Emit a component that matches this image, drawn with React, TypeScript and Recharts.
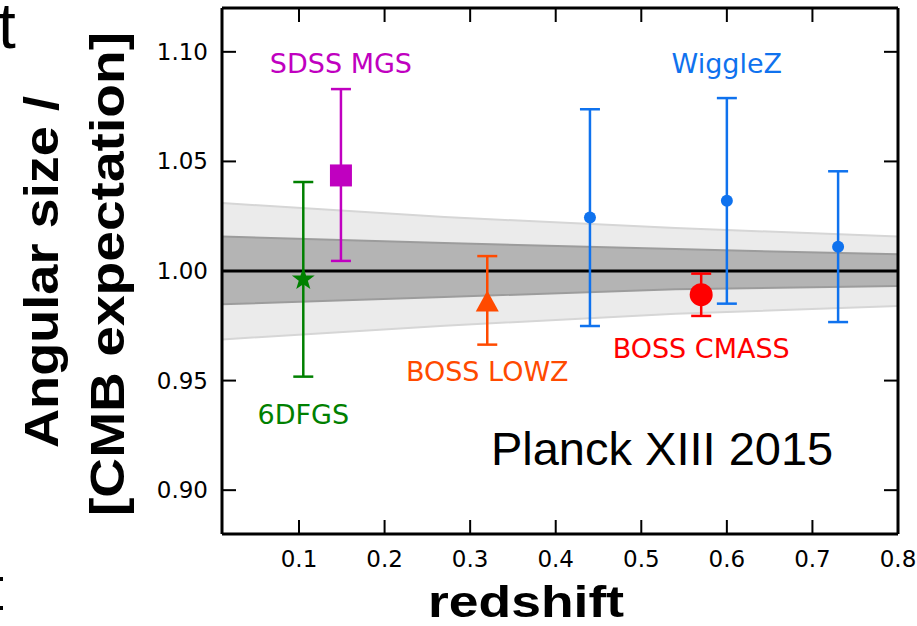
import {
  ComposedChart,
  Area,
  Line,
  Scatter,
  ErrorBar,
  XAxis,
  YAxis,
  ReferenceDot,
} from "recharts";

// Planck model bands (read at a few redshifts)
const bandZ = [0.01, 0.27, 0.54, 0.8];
const outerLow = [0.9688, 0.975, 0.9805, 0.984];
const outerHigh = [1.031, 1.0246, 1.0196, 1.0157];
const innerLow = [0.9848, 0.9881, 0.9917, 0.9932];
const innerHigh = [1.0157, 1.0128, 1.01, 1.0076];
const unity = [1, 1, 1, 1];

// BAO measurements
const pointSurvey = ["6DFGS", "SDSS MGS", "BOSS LOWZ", "WiggleZ", "WiggleZ", "WiggleZ", "BOSS CMASS"];
const pointZ = [0.105, 0.149, 0.32, 0.44, 0.6, 0.73, 0.57];
const pointRatio = [0.9962, 1.0436, 0.9861, 1.0244, 1.032, 1.0111, 0.9892];
const pointLow = [0.9518, 1.0046, 0.9664, 0.9749, 0.9851, 0.9767, 0.9795];
const pointHigh = [1.0406, 1.083, 1.0068, 1.0738, 1.0789, 1.0455, 0.9988];

// survey name labels
const labelText = ["SDSS MGS", "WiggleZ", "6DFGS", "BOSS LOWZ", "BOSS CMASS"];
const labelZ = [0.149, 0.6, 0.105, 0.32, 0.57];
const labelRatio = [1.0946, 1.0946, 0.9346, 0.9542, 0.9647];

const xTicks = [0.1, 0.2, 0.3, 0.4, 0.5, 0.6, 0.7, 0.8];
const yTicks = [0.9, 0.95, 1.0, 1.05, 1.1];

const surveyColor: Record<string, string> = {
  "6DFGS": "#008000",
  "SDSS MGS": "#c000c0",
  "BOSS LOWZ": "#ff4a00",
  WiggleZ: "#0f72ee",
  "BOSS CMASS": "#ff0000",
};

const bandData = bandZ.map((z, i) => ({
  x: z,
  outer: [outerLow[i], outerHigh[i]],
  inner: [innerLow[i], innerHigh[i]],
  unity: unity[i],
}));

const pointsFor = (name: string) =>
  pointZ
    .map((z, i) => ({
      survey: pointSurvey[i],
      x: z,
      y: pointRatio[i],
      err: [pointRatio[i] - pointLow[i], pointHigh[i] - pointRatio[i]],
    }))
    .filter((p) => p.survey === name);

const starPath = (cx: number, cy: number, R: number, r: number) => {
  let d = "";
  for (let k = 0; k < 10; k++) {
    const rad = k % 2 === 0 ? R : r;
    const a = -Math.PI / 2 + (k * Math.PI) / 5;
    d += (k === 0 ? "M" : "L") + (cx + rad * Math.cos(a)) + "," + (cy + rad * Math.sin(a));
  }
  return d + "Z";
};

const Star = (p: any) => <path d={starPath(p.cx, p.cy, 12, 4.8)} fill={surveyColor["6DFGS"]} />;
const Square = (p: any) => (
  <rect x={p.cx - 11} y={p.cy - 11} width={22} height={22} fill={surveyColor["SDSS MGS"]} />
);
const Triangle = (p: any) => (
  <path
    d={`M${p.cx},${p.cy - 11} L${p.cx + 11.5},${p.cy + 10} L${p.cx - 11.5},${p.cy + 10} Z`}
    fill={surveyColor["BOSS LOWZ"]}
  />
);
const BigDot = (p: any) => <circle cx={p.cx} cy={p.cy} r={11.5} fill={surveyColor["BOSS CMASS"]} />;
const SmallDot = (p: any) => <circle cx={p.cx} cy={p.cy} r={6} fill={surveyColor.WiggleZ} />;

const shapes: Record<string, any> = {
  "6DFGS": Star,
  "SDSS MGS": Square,
  "BOSS LOWZ": Triangle,
  WiggleZ: SmallDot,
  "BOSS CMASS": BigDot,
};

const TICK = 14;
const labelFont = { fontSize: 23, fontFamily: "DejaVu Sans", fill: "#000" };
const frame = { stroke: "#000", strokeWidth: 3 };

// inward ticks drawn by hand, labels outside
const BottomTick = (p: any) => (
  <g>
    <line x1={p.x} y1={p.y} x2={p.x} y2={p.y - TICK} stroke="#000" strokeWidth={2} />
    <text x={p.x} y={p.y + 33} textAnchor="middle" {...labelFont}>
      {Number(p.payload.value).toFixed(1)}
    </text>
  </g>
);
const TopTick = (p: any) => (
  <line x1={p.x} y1={p.y} x2={p.x} y2={p.y + TICK} stroke="#000" strokeWidth={2} />
);
const LeftTick = (p: any) => (
  <g>
    <line x1={p.x} y1={p.y} x2={p.x + TICK} y2={p.y} stroke="#000" strokeWidth={2} />
    <text x={p.x - 14} y={p.y + 8} textAnchor="end" {...labelFont}>
      {Number(p.payload.value).toFixed(2)}
    </text>
  </g>
);
const RightTick = (p: any) => (
  <line x1={p.x} y1={p.y} x2={p.x - TICK} y2={p.y} stroke="#000" strokeWidth={2} />
);

export default function App() {
  return (
    <div style={{ position: "absolute", left: 0, top: 0, width: 917, height: 626, background: "#fff" }}>
      <ComposedChart
        width={917}
        height={626}
        data={bandData}
        margin={{ top: 7, right: 18, bottom: 42, left: 142 }}
      >
        <XAxis
          dataKey="x"
          type="number"
          domain={[0.01, 0.8]}
          allowDataOverflow
          ticks={xTicks}
          tick={BottomTick}
          tickSize={0}
          tickMargin={0}
          tickLine={false}
          axisLine={frame}
          height={50}
        />
        <XAxis
          xAxisId="top"
          orientation="top"
          dataKey="x"
          type="number"
          domain={[0.01, 0.8]}
          allowDataOverflow
          ticks={xTicks}
          tick={TopTick}
          tickSize={0}
          tickMargin={0}
          tickLine={false}
          axisLine={frame}
          height={1}
        />
        <YAxis
          type="number"
          domain={[0.88, 1.12]}
          allowDataOverflow
          ticks={yTicks}
          tick={LeftTick}
          tickSize={0}
          tickMargin={0}
          tickLine={false}
          axisLine={frame}
          width={80}
        />
        <YAxis
          yAxisId="right"
          orientation="right"
          type="number"
          domain={[0.88, 1.12]}
          allowDataOverflow
          ticks={yTicks}
          tick={RightTick}
          tickSize={0}
          tickMargin={0}
          tickLine={false}
          axisLine={frame}
          width={1}
        />
        <Area
          dataKey="outer"
          type="linear"
          fill="#ebebeb"
          fillOpacity={1}
          stroke="#d6d6d6"
          strokeWidth={2}
          isAnimationActive={false}
        />
        <Area
          dataKey="inner"
          type="linear"
          fill="#b4b4b4"
          fillOpacity={1}
          stroke="#9c9c9c"
          strokeWidth={2}
          isAnimationActive={false}
        />
        <Line
          dataKey="unity"
          type="linear"
          stroke="#000"
          strokeWidth={3}
          dot={false}
          isAnimationActive={false}
        />
        <Line
          dataKey="unity"
          xAxisId="top"
          yAxisId="right"
          stroke="none"
          dot={false}
          legendType="none"
          isAnimationActive={false}
        />
        {Object.keys(surveyColor).map((name) => (
          <Scatter
            key={name}
            data={pointsFor(name)}
            dataKey="y"
            shape={shapes[name]}
            isAnimationActive={false}
          >
            <ErrorBar
              dataKey="err"
              direction="y"
              width={10}
              stroke={surveyColor[name]}
              strokeWidth={2.5}
              isAnimationActive={false}
            />
          </Scatter>
        ))}
        {labelText.map((t, i) => (
          <ReferenceDot
            key={t}
            x={labelZ[i]}
            y={labelRatio[i]}
            r={0}
            fill="none"
            stroke="none"
            label={{
              value: t,
              position: "center",
              fill: surveyColor[t],
              fontSize: 27,
              fontFamily: "DejaVu Sans",
            }}
          />
        ))}
        <ReferenceDot
          x={0.5243}
          y={0.919}
          r={0}
          fill="none"
          stroke="none"
          label={{
            value: "Planck XIII 2015",
            position: "center",
            fill: "#000",
            fontSize: 47,
            fontFamily: "Liberation Sans",
          }}
        />
      </ComposedChart>
      <svg
        width={917}
        height={626}
        style={{ position: "absolute", left: 0, top: 0, pointerEvents: "none" }}
      >
        <text x={-2} y={48} fontSize={64} fontFamily="Liberation Sans" fill="#000">
          t
        </text>
        <rect x={0} y={577} width={3} height={4} fill="#000" />
        <rect x={0} y={606} width={3} height={4} fill="#000" />
        <text
          transform="translate(58,272) rotate(-90)"
          textAnchor="middle"
          fontSize={49}
          fontWeight="bold"
          fontFamily="Liberation Sans"
          textLength={352}
          lengthAdjust="spacingAndGlyphs"
          fill="#000"
        >
          Angular size /
        </text>
        <text
          transform="translate(124,274) rotate(-90)"
          textAnchor="middle"
          fontSize={49}
          fontWeight="bold"
          fontFamily="Liberation Sans"
          textLength={484}
          lengthAdjust="spacingAndGlyphs"
          fill="#000"
        >
          [CMB expectation]
        </text>
        <text
          x={526}
          y={617}
          textAnchor="middle"
          fontSize={45}
          fontWeight="bold"
          fontFamily="Liberation Sans"
          textLength={196}
          lengthAdjust="spacingAndGlyphs"
          fill="#000"
        >
          redshift
        </text>
      </svg>
    </div>
  );
}
